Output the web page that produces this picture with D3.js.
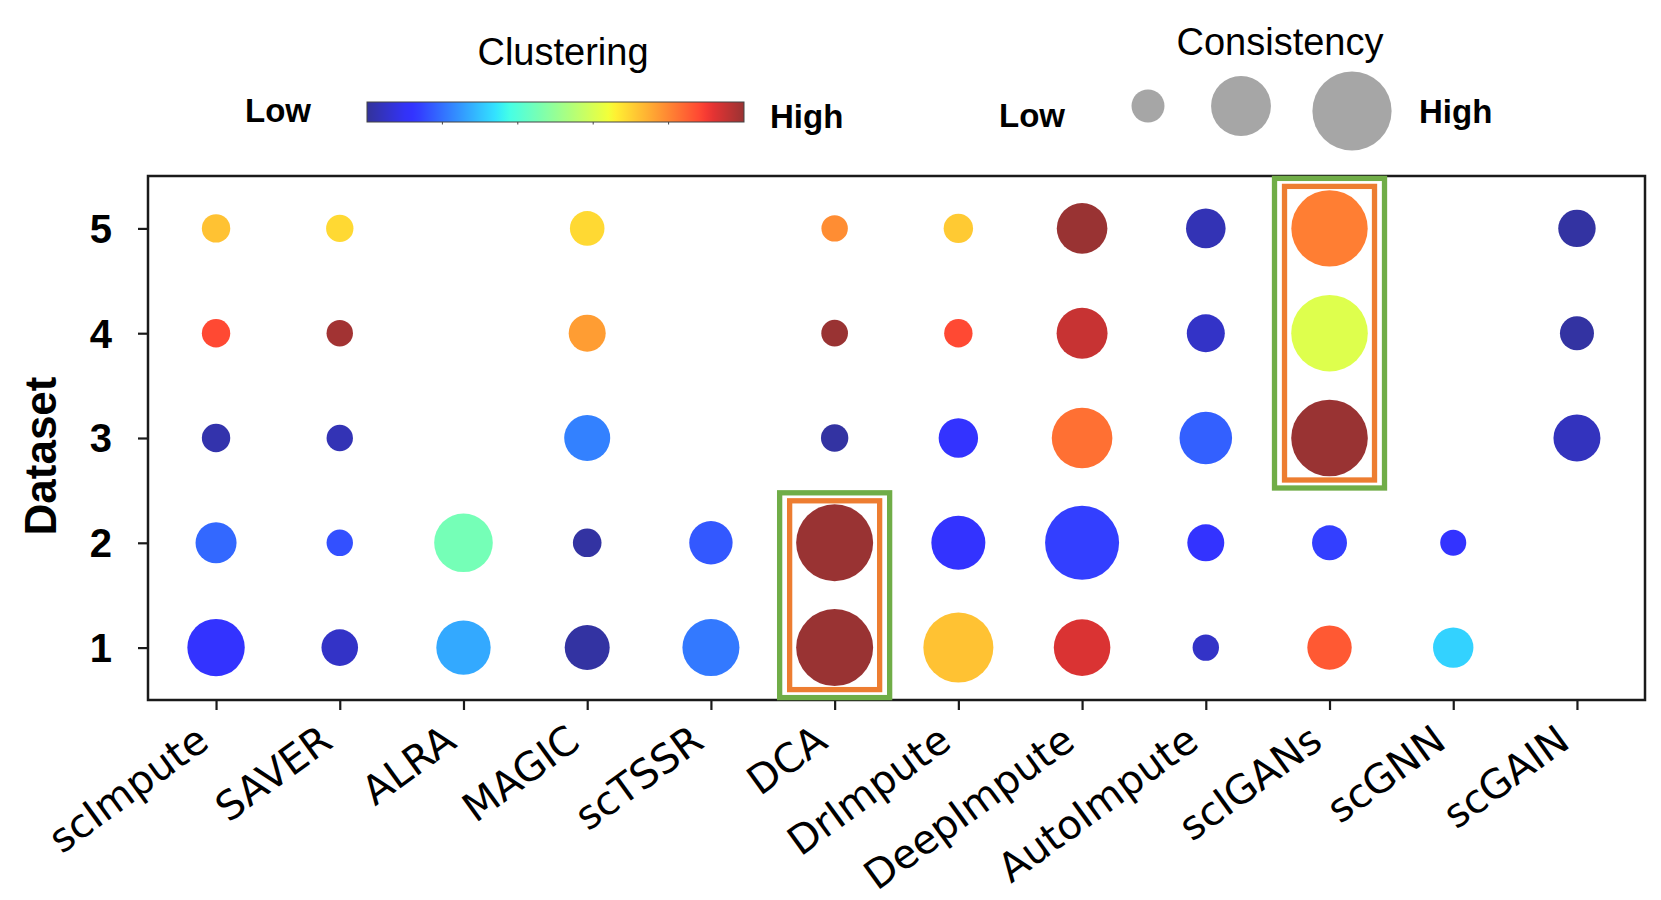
<!DOCTYPE html>
<html>
<head>
<meta charset="utf-8">
<script src="https://cdn.jsdelivr.net/npm/d3@7"></script>
<style>
  html, body { margin: 0; padding: 0; background: #fff; }
  svg { display: block; }
</style>
</head>
<body>
<svg id="chart" width="1661" height="900"></svg>
<script>
// ---------------- DATA ----------------
const methods = ["scImpute","SAVER","ALRA","MAGIC","scTSSR","DCA","DrImpute","DeepImpute","AutoImpute","scIGANs","scGNN","scGAIN"];
const datasets = [1, 2, 3, 4, 5];
const yTickLabels = ["1", "2", "3", "4", "5"];

// Clustering score (colour), one row per method, columns = dataset 1..5 (null = not available)
const clustering = [
  [0.12, 0.19, 0.02, 0.88, 0.72],  // scImpute
  [0.05, 0.16, 0.03, 0.99, 0.69],  // SAVER
  [0.27, 0.45, null, null, null],  // ALRA
  [0.01, 0.01, 0.22, 0.77, 0.69],  // MAGIC
  [0.21, 0.17, null, null, null],  // scTSSR
  [1.00, 1.00, 0.01, 1.00, 0.79],  // DCA
  [0.72, 0.12, 0.12, 0.88, 0.71],  // DrImpute
  [0.93, 0.14, 0.83, 0.95, 1.00],  // DeepImpute
  [0.05, 0.12, 0.18, 0.05, 0.03],  // AutoImpute
  [0.86, 0.14, 1.00, 0.61, 0.81],  // scIGANs
  [0.32, 0.12, null, null, null],  // scGNN
  [null, null, 0.04, 0.01, 0.01]   // scGAIN
];

// Consistency score (size)
const consistency = [
  [0.515, 0.263, 0.126, 0.126, 0.126],  // scImpute
  [0.209, 0.109, 0.109, 0.109, 0.117],  // SAVER
  [0.462, 0.537, null, null, null],     // ALRA
  [0.316, 0.128, 0.331, 0.214, 0.187],  // MAGIC
  [0.508, 0.294, null, null, null],     // scTSSR
  [0.926, 0.926, 0.117, 0.111, 0.109],  // DCA
  [0.766, 0.456, 0.243, 0.126, 0.135],  // DrImpute
  [0.500, 0.856, 0.574, 0.406, 0.400],  // DeepImpute
  [0.109, 0.214, 0.432, 0.226, 0.245],  // AutoImpute
  [0.308, 0.191, 0.917, 0.917, 0.912],  // scIGANs
  [0.255, 0.106, null, null, null],     // scGNN
  [null, null, 0.345, 0.181, 0.219]     // scGAIN
];

const highlights = [
  { method: "DCA", from: 1, to: 2 },
  { method: "scIGANs", from: 3, to: 5 }
];
const colorbarTicks = [0.2, 0.4, 0.6, 0.8];
const sizeLegendValues = [0.17, 0.56, 0.98];

// ---------------- JET COLORMAP ----------------
const jetSeg = {
  r: [[0,0],[0.35,0],[0.66,1],[0.89,1],[1,0.5]],
  g: [[0,0],[0.125,0],[0.375,1],[0.64,1],[0.91,0],[1,0]],
  b: [[0,0.5],[0.11,1],[0.34,1],[0.65,0],[1,0]]
};
function seg(pts, t) {
  t = Math.max(0, Math.min(1, t));
  for (let i = 1; i < pts.length; i++) {
    if (t <= pts[i][0]) {
      const [x0, y0] = pts[i-1], [x1, y1] = pts[i];
      return y0 + (y1 - y0) * (t - x0) / (x1 - x0);
    }
  }
  return pts[pts.length-1][1];
}
function jet(t) {
  return d3.rgb(seg(jetSeg.r, t) * 255, seg(jetSeg.g, t) * 255, seg(jetSeg.b, t) * 255).formatHex();
}
const color = d3.scaleSequential(jet).domain([0, 1]);
const ALPHA = 0.8;

// ---------------- LAYOUT ----------------
const svg = d3.select("#chart");
const plot = { left: 148, right: 1645, top: 176, bottom: 700 };

const x = d3.scalePoint().domain(methods).range([plot.left, plot.right]).padding(0.55);
const y = d3.scaleLinear().domain([0.5, 5.5]).range([plot.bottom, plot.top]);
const r = d3.scaleSqrt().domain([0, 1]).range([0, 40]);

// points
const points = [];
methods.forEach((m, i) => {
  datasets.forEach((d, j) => {
    const c = clustering[i][j], s = consistency[i][j];
    if (c !== null && s !== null) points.push({ method: m, dataset: d, c, s });
  });
});

// axes
const xAxis = d3.axisBottom(x).tickSize(10).tickSizeOuter(0).tickFormat(() => "");
const gx = svg.append("g").attr("transform", `translate(0,${plot.bottom})`).call(xAxis);
gx.select(".domain").remove();
gx.selectAll(".tick line").attr("stroke", "#1a1a1a").attr("stroke-width", 2.2);

const yAxis = d3.axisLeft(y).tickValues(datasets).tickSize(10).tickSizeOuter(0).tickFormat(() => "");
const gy = svg.append("g").attr("transform", `translate(${plot.left},0)`).call(yAxis);
gy.select(".domain").remove();
gy.selectAll(".tick line").attr("stroke", "#1a1a1a").attr("stroke-width", 2.2);

// y tick labels
svg.append("g").selectAll("text").data(datasets).join("text")
  .attr("x", 112).attr("y", d => y(d)).attr("dy", "0.36em")
  .attr("text-anchor", "end")
  .attr("font-family", "Liberation Sans, Arial, sans-serif")
  .attr("font-weight", "bold").attr("font-size", 40)
  .text((d, i) => yTickLabels[i]);

// y axis title
svg.append("text")
  .attr("transform", `translate(56,${(plot.top + plot.bottom) / 2 + 18}) rotate(-90)`)
  .attr("text-anchor", "middle")
  .attr("font-family", "Liberation Sans, Arial, sans-serif")
  .attr("font-weight", "bold").attr("font-size", 44)
  .text("Dataset");

// x tick labels
svg.append("g").selectAll("text").data(methods).join("text")
  .attr("transform", d => `translate(${x(d) - 5},${plot.bottom + 46}) rotate(-36)`)
  .attr("text-anchor", "end")
  .attr("font-family", "DejaVu Sans, sans-serif")
  .attr("font-size", 40)
  .text(d => d);

// circles
svg.append("g").selectAll("circle").data(points).join("circle")
  .attr("cx", d => x(d.method))
  .attr("cy", d => y(d.dataset))
  .attr("r", d => r(d.s))
  .attr("fill", d => color(d.c))
  .attr("fill-opacity", ALPHA);

// frame
svg.append("rect")
  .attr("x", plot.left).attr("y", plot.top)
  .attr("width", plot.right - plot.left).attr("height", plot.bottom - plot.top)
  .attr("fill", "none").attr("stroke", "#1a1a1a").attr("stroke-width", 2.5);

// highlight boxes
const hl = svg.append("g");
highlights.forEach(h => {
  const cx = x(h.method);
  hl.append("rect")
    .attr("x", cx - 55).attr("y", y(h.to) - 50)
    .attr("width", 110).attr("height", y(h.from) - y(h.to) + 100)
    .attr("fill", "none").attr("stroke", "#70AD47").attr("stroke-width", 5.3);
  hl.append("rect")
    .attr("x", cx - 45).attr("y", y(h.to) - 42)
    .attr("width", 90).attr("height", y(h.from) - y(h.to) + 84)
    .attr("fill", "none").attr("stroke", "#ED7D31").attr("stroke-width", 5.3);
});

// ---------------- LEGENDS ----------------
const titleFont = "Liberation Sans, Arial, sans-serif";
svg.append("text").attr("x", 563).attr("y", 65).attr("text-anchor", "middle")
  .attr("font-family", titleFont).attr("font-size", 38).text("Clustering");
svg.append("text").attr("x", 245).attr("y", 122)
  .attr("font-family", titleFont).attr("font-weight", "bold").attr("font-size", 33).text("Low");
svg.append("text").attr("x", 770).attr("y", 128)
  .attr("font-family", titleFont).attr("font-weight", "bold").attr("font-size", 33).text("High");

// colorbar
const cb = { x: 367, y: 102, w: 377, h: 20 };
const defs = svg.append("defs");
const grad = defs.append("linearGradient").attr("id", "jetgrad")
  .attr("x1", "0%").attr("x2", "100%").attr("y1", "0%").attr("y2", "0%");
d3.range(0, 1.0001, 0.02).forEach(t => {
  grad.append("stop").attr("offset", `${t * 100}%`)
    .attr("stop-color", color(t)).attr("stop-opacity", ALPHA);
});
svg.append("rect").attr("x", cb.x).attr("y", cb.y).attr("width", cb.w).attr("height", cb.h)
  .attr("fill", "url(#jetgrad)").attr("stroke", "#444").attr("stroke-width", 1);
const cbScale = d3.scaleLinear().domain([0, 1]).range([cb.x, cb.x + cb.w]);
svg.append("g").selectAll("line").data(colorbarTicks).join("line")
  .attr("x1", d => cbScale(d)).attr("x2", d => cbScale(d))
  .attr("y1", cb.y + cb.h).attr("y2", cb.y + cb.h + 2.5)
  .attr("stroke", "#444").attr("stroke-width", 1);

// size legend
svg.append("text").attr("x", 1280).attr("y", 55).attr("text-anchor", "middle")
  .attr("font-family", titleFont).attr("font-size", 38).text("Consistency");
svg.append("text").attr("x", 999).attr("y", 127)
  .attr("font-family", titleFont).attr("font-weight", "bold").attr("font-size", 33).text("Low");
svg.append("text").attr("x", 1419).attr("y", 123)
  .attr("font-family", titleFont).attr("font-weight", "bold").attr("font-size", 33).text("High");
const legX = [1148, 1241, 1352], legY = [106, 106, 111];
svg.append("g").selectAll("circle").data(sizeLegendValues).join("circle")
  .attr("cx", (d, i) => legX[i]).attr("cy", (d, i) => legY[i])
  .attr("r", d => r(d)).attr("fill", "#A6A6A6");
</script>
</body>
</html>
